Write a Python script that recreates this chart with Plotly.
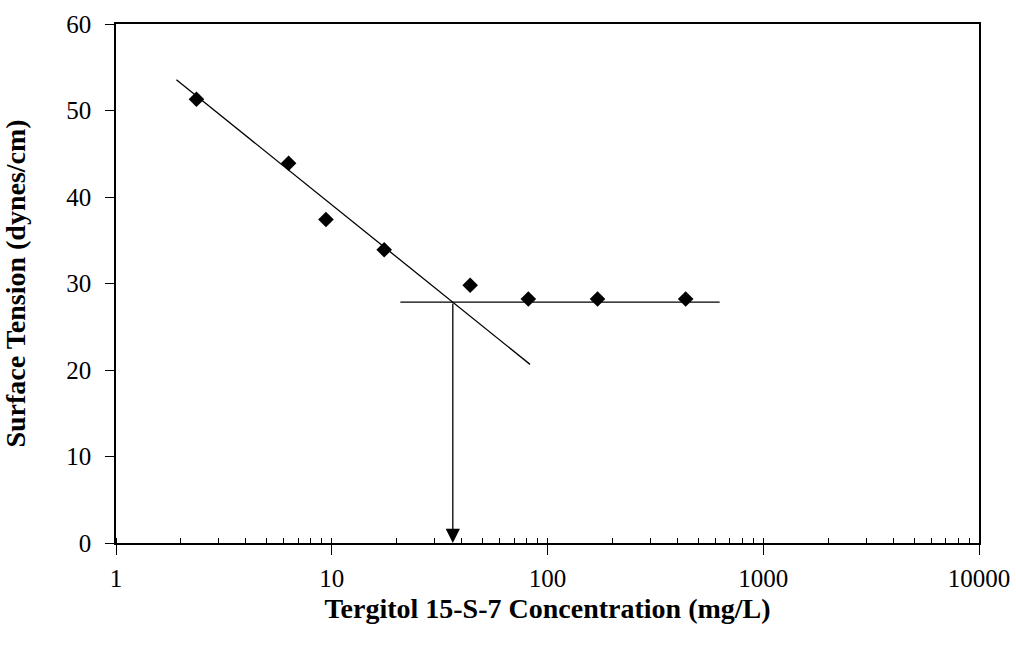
import math
import plotly.graph_objects as go

# Data
conc = [2.36, 6.31, 9.4, 17.5, 43.8, 81.5, 170.6, 437]          # mg/L
tension = [51.3, 43.9, 37.4, 33.9, 29.8, 28.2, 28.2, 28.2]       # dynes/cm

fit_x = [1.905, 83]        # descending fit line ends
fit_y = [53.55, 20.65]
plateau_x = [20.8, 628]    # plateau line ends
plateau_y = [27.85, 27.85]
cmc_x = 36.4               # critical micelle concentration
cmc_y = 27.85

x_ticks = [1, 10, 100, 1000, 10000]
x_tick_labels = ["1", "10", "100", "1000", "10000"]
y_ticks = [0, 10, 20, 30, 40, 50, 60]

FONT = "Liberation Serif, Times New Roman, serif"

fig = go.Figure()
fig.add_trace(go.Scatter(x=fit_x, y=fit_y, mode="lines",
                         line=dict(color="black", width=1.3),
                         showlegend=False, hoverinfo="skip"))
fig.add_trace(go.Scatter(x=plateau_x, y=plateau_y, mode="lines",
                         line=dict(color="black", width=1.3),
                         showlegend=False, hoverinfo="skip"))
fig.add_trace(go.Scatter(x=conc, y=tension, mode="markers",
                         marker=dict(symbol="diamond", size=12, color="black"),
                         showlegend=False))

fig.add_annotation(x=math.log10(cmc_x), y=0, ax=math.log10(cmc_x), ay=cmc_y,
                   xref="x", yref="y", axref="x", ayref="y",
                   text="", showarrow=True, arrowhead=2, arrowsize=2.2,
                   arrowwidth=1.3, arrowcolor="black", standoff=0)

fig.update_layout(
    width=1016, height=654,
    margin=dict(l=115.5, r=37, t=23.5, b=111),
    plot_bgcolor="white", paper_bgcolor="white",
    font=dict(family=FONT, color="black", size=25),
    xaxis=dict(type="log", range=[0, 4], tickvals=x_ticks, ticktext=x_tick_labels,
               ticks="outside", ticklen=10, tickwidth=1.3, tickcolor="black",
               tickfont=dict(size=25), automargin=False,
               showline=True, linecolor="black", linewidth=1.6, mirror=True,
               showgrid=False, zeroline=False, ticklabelstandoff=2,
               minor=dict(ticks="inside", ticklen=5, tickwidth=1.2, tickcolor="black",
                          dtick="D1", showgrid=False),
               title=dict(text="<b>Tergitol 15-S-7 Concentration (mg/L)</b>",
                          font=dict(size=28), standoff=8)),
    yaxis=dict(range=[0, 60], tickvals=y_ticks,
               ticks="outside", ticklen=9, tickwidth=1.3, tickcolor="black",
               tickfont=dict(size=25), automargin=False,
               showline=True, linecolor="black", linewidth=1.6, mirror=True,
               showgrid=False, zeroline=False, ticklabelstandoff=9,
               title=dict(text="<b>Surface Tension (dynes/cm)</b>",
                          font=dict(size=28), standoff=32)),
)

fig.write_html("out.html")
